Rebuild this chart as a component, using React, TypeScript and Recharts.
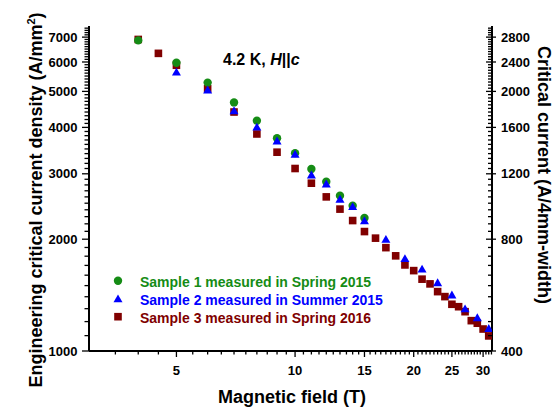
import React from "react";
import { ScatterChart, Scatter, XAxis, YAxis, Legend } from "recharts";

// Magnetic field (T) and engineering Jc (A/mm2)
const FIELD_S1 = [4, 5, 6, 7, 8, 9, 10, 11, 12, 13, 14, 15];
const JC_S1 = [6860, 5970, 5280, 4670, 4170, 3740, 3410, 3090, 2855, 2620, 2460, 2280];

const FIELD_S2 = [5, 6, 7, 8, 9, 10, 11, 12, 13, 14, 15, 17, 19, 21, 23, 25, 27, 29, 31];
const JC_S2 = [5640, 5050, 4440, 4010, 3680, 3390, 2980, 2820, 2565, 2450, 2245, 2000, 1775, 1663, 1528, 1416, 1300, 1230, 1151];

const FIELD_S3 = [4, 4.5, 5, 6, 7, 8, 9, 10, 11, 12, 13, 14, 15, 16, 17, 18, 19, 20, 21, 22, 23, 24, 25, 26, 27, 28, 29, 30, 31];
const JC_S3 = [6900, 6330, 5880, 5085, 4400, 3840, 3430, 3100, 2830, 2600, 2410, 2245, 2097, 2013, 1898, 1804, 1705, 1646, 1561, 1516, 1445, 1401, 1336, 1316, 1276, 1207, 1188, 1146, 1098];

const LABELS = [
  "Sample 1 measured in Spring 2015",
  "Sample 2 measured in Summer 2015",
  "Sample 3 measured in Spring 2016",
];

const X_MAJOR = [5, 10, 15, 20, 25, 30];
const Y_MAJOR = [1000, 2000, 3000, 4000, 5000, 6000, 7000];
const Y2_MAJOR = [400, 800, 1200, 1600, 2000, 2400, 2800];

const X_DOMAIN: [number, number] = [3, 31.6];
const Y_DOMAIN: [number, number] = [1000, 7500];
const Y2_DOMAIN: [number, number] = [400, 3000];

const GREEN = "#158c15";
const BLUE = "#0000ff";
const RED = "#800000";
const FONT = "'Liberation Sans', Arial, sans-serif";

// minor tick positions (Origin style: 9 minor ticks between majors)
const steps = (from: number, to: number, step: number) => {
  const out: number[] = [];
  for (let v = from; v <= to + 1e-9; v += step) out.push(Math.round(v * 1000) / 1000);
  return out;
};
const X_TICKS = steps(3.5, 31.5, 0.5);
const Y_TICKS = steps(1000, 7400, 100);
const Y2_TICKS = steps(400, 2960, 40);

const zip = (xs: number[], ys: number[]) => xs.map((x, i) => ({ x, y: ys[i] }));
const s1 = zip(FIELD_S1, JC_S1);
const s2 = zip(FIELD_S2, JC_S2);
const s3 = zip(FIELD_S3, JC_S3);

const tickText = { fontFamily: FONT, fontWeight: 700, fontSize: 13, fill: "#000" };

const BottomTick = (p: any) => {
  const major = X_MAJOR.includes(p.payload.value);
  return (
    <g>
      <line x1={p.x} y1={p.y} x2={p.x} y2={p.y + (major ? 6 : 3.5)} stroke="#000" strokeWidth={1.3} />
      {major && (
        <text x={p.x} y={p.y + 23.5} textAnchor="middle" style={tickText}>
          {p.payload.value}
        </text>
      )}
    </g>
  );
};

const TopTick = (p: any) => {
  const major = X_MAJOR.includes(p.payload.value);
  return <line x1={p.x} y1={p.y} x2={p.x} y2={p.y + (major ? 6 : 3.5)} stroke="#000" strokeWidth={1.3} />;
};

const LeftTick = (p: any) => {
  const major = Y_MAJOR.includes(p.payload.value);
  return (
    <g>
      <line x1={p.x - (major ? 7 : 4.5)} y1={p.y} x2={p.x} y2={p.y} stroke="#000" strokeWidth={1.3} />
      {major && (
        <text x={p.x - 11.5} y={p.y + 4.7} textAnchor="end" style={tickText}>
          {p.payload.value}
        </text>
      )}
    </g>
  );
};

const RightTick = (p: any) => {
  const major = Y2_MAJOR.includes(p.payload.value);
  return (
    <g>
      <line x1={p.x - (major ? 6 : 4)} y1={p.y} x2={p.x + (major ? 4 : 0)} y2={p.y} stroke="#000" strokeWidth={1.3} />
      {major && (
        <text x={p.x + 9} y={p.y + 4.7} textAnchor="start" style={tickText}>
          {p.payload.value}
        </text>
      )}
    </g>
  );
};

const Dot = (p: any) => <circle cx={p.cx} cy={p.cy} r={4.2} fill={GREEN} />;
const Tri = (p: any) => (
  <polygon
    points={`${p.cx},${p.cy - 4.3} ${p.cx + 4.5},${p.cy + 3.6} ${p.cx - 4.5},${p.cy + 3.6}`}
    fill={BLUE}
  />
);
const Sq = (p: any) => <rect x={p.cx - 3.8} y={p.cy - 3.8} width={7.6} height={7.6} fill={RED} />;

const legendRows = [
  { label: LABELS[0], color: GREEN, mark: (y: number) => <circle cx={13} cy={y} r={4.2} fill={GREEN} /> },
  {
    label: LABELS[1],
    color: BLUE,
    mark: (y: number) => <polygon points={`13,${y - 4.3} 17.5,${y + 3.6} 8.5,${y + 3.6}`} fill={BLUE} />,
  },
  { label: LABELS[2], color: RED, mark: (y: number) => <rect x={9.2} y={y - 3.8} width={7.6} height={7.6} fill={RED} /> },
];

const LegendBox = () => (
  <svg width={290} height={62}>
    {legendRows.map((r, i) => (
      <g key={r.label}>
        {r.mark(12.7 + i * 18)}
        <text x={35} y={18.5 + i * 18} fill={r.color} style={{ fontFamily: FONT, fontWeight: 700, fontSize: 14 }}>
          {r.label}
        </text>
      </g>
    ))}
  </svg>
);

const axisLine = { stroke: "#000", strokeWidth: 2 };
const titleStyle = { fontFamily: FONT, fontWeight: 700, fontSize: 18, fill: "#000" };

export default function App() {
  return (
    <div style={{ position: "absolute", left: 0, top: 0, width: 556, height: 408, background: "#fff" }}>
      <ScatterChart width={556} height={408} margin={{ top: 26, right: 0, bottom: 0, left: 0 }}>
        <XAxis
          xAxisId="b"
          dataKey="x"
          type="number"
          scale="log"
          domain={X_DOMAIN}
          allowDataOverflow
          ticks={X_TICKS}
          interval={0}
          height={57}
          tickSize={0}
          tickMargin={0}
          tickLine={false}
          axisLine={axisLine}
          tick={<BottomTick />}
        />
        <XAxis
          xAxisId="t"
          orientation="top"
          type="number"
          scale="log"
          domain={X_DOMAIN}
          allowDataOverflow
          ticks={X_TICKS}
          interval={0}
          height={0}
          tickSize={0}
          tickMargin={0}
          tickLine={false}
          axisLine={axisLine}
          tick={<TopTick />}
        />
        <YAxis
          yAxisId="l"
          dataKey="y"
          type="number"
          scale="log"
          domain={Y_DOMAIN}
          allowDataOverflow
          ticks={Y_TICKS}
          interval={0}
          width={89}
          tickSize={0}
          tickMargin={0}
          tickLine={false}
          axisLine={axisLine}
          tick={<LeftTick />}
        />
        <YAxis
          yAxisId="r"
          orientation="right"
          type="number"
          scale="log"
          domain={Y2_DOMAIN}
          allowDataOverflow
          ticks={Y2_TICKS}
          interval={0}
          width={64}
          tickSize={0}
          tickMargin={0}
          tickLine={false}
          axisLine={axisLine}
          tick={<RightTick />}
        />
        <Legend
          layout="vertical"
          align="center"
          verticalAlign="middle"
          content={() => <LegendBox />}
          wrapperStyle={{ left: 105, top: 268, width: 290, height: 62 }}
        />
        <Scatter name={LABELS[2]} data={s3} xAxisId="b" yAxisId="l" shape={Sq} isAnimationActive={false} />
        <Scatter name={LABELS[0]} data={s1} xAxisId="b" yAxisId="l" shape={Dot} isAnimationActive={false} />
        <Scatter name={LABELS[1]} data={s2} xAxisId="b" yAxisId="l" shape={Tri} isAnimationActive={false} />
      </ScatterChart>

      <svg width={556} height={408} style={{ position: "absolute", left: 0, top: 0, pointerEvents: "none" }}>
        <text x={223} y={65} style={{ fontFamily: FONT, fontWeight: 700, fontSize: 16, fill: "#000" }}>
          4.2 K, <tspan fontStyle="italic">H</tspan>||<tspan fontStyle="italic">c</tspan>
        </text>
        <text x={292} y={403} textAnchor="middle" style={titleStyle}>
          Magnetic field (T)
        </text>
        <text x={42} y={200} textAnchor="middle" transform="rotate(-90 42 200)" style={titleStyle}>
          Engineering critical current density (A/mm<tspan dy={-7} fontSize={11}>2</tspan>
          <tspan dy={7}>)</tspan>
        </text>
        <text x={538} y={175} textAnchor="middle" transform="rotate(90 538 175)" style={titleStyle}>
          Critical current (A/4mm-width)
        </text>
      </svg>
    </div>
  );
}
